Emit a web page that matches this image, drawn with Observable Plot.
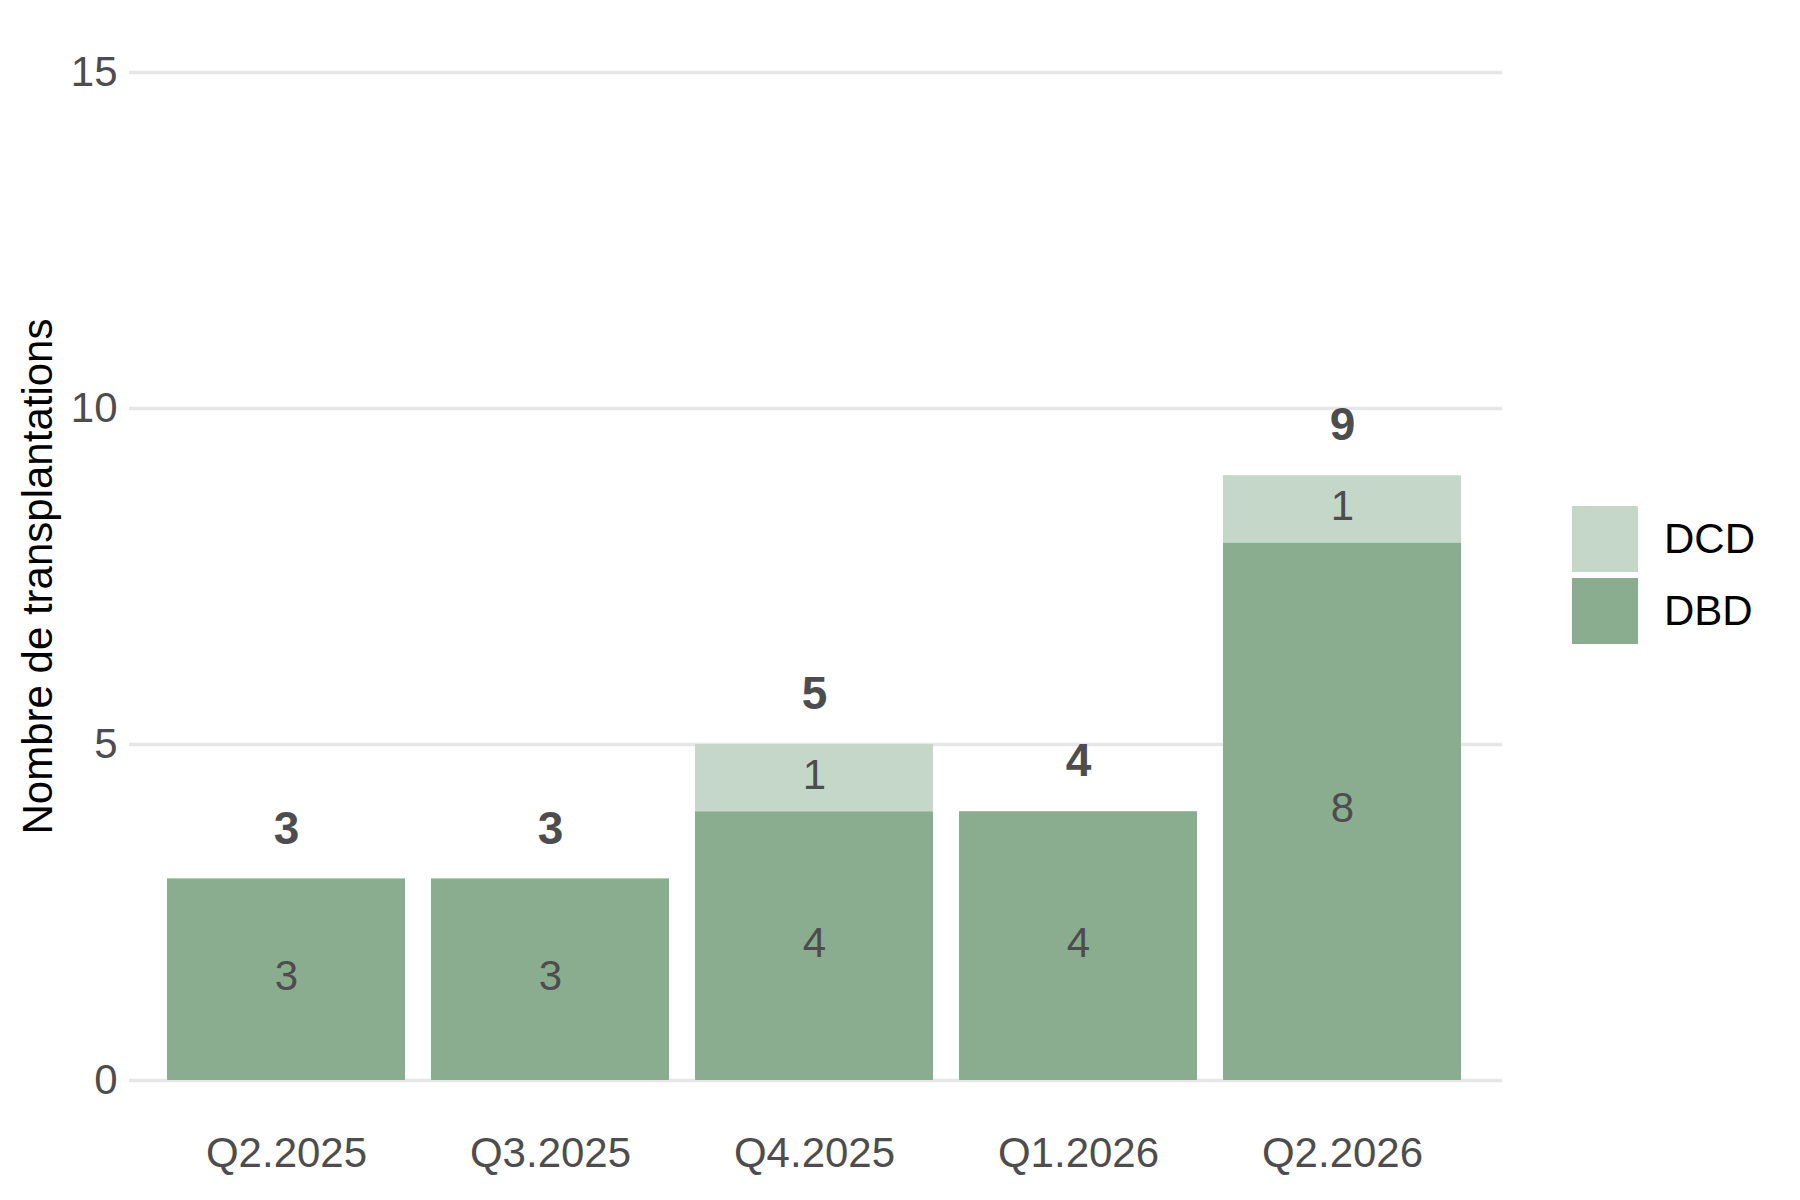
<!DOCTYPE html>
<html>
<head>
<meta charset="utf-8">
<script src="https://cdn.jsdelivr.net/npm/d3@7"></script>
<script src="https://cdn.jsdelivr.net/npm/@observablehq/plot@0.6"></script>
<style>
  html, body { margin: 0; padding: 0; background: #fff; }
  #wrap { position: relative; width: 1800px; height: 1200px; font-family: "Liberation Sans", Arial, sans-serif; }
  .legend { position: absolute; left: 1572px; top: 506px; }
  .item { display: flex; align-items: center; height: 66px; margin-bottom: 6px; }
  .key { width: 66px; height: 66px; }
  .lab { margin-left: 26px; font-size: 42px; color: #000; }
</style>
</head>
<body>
<div id="wrap"></div>
<script>
const quarters = ["Q2.2025", "Q3.2025", "Q4.2025", "Q1.2026", "Q2.2026"];
const dbd = [3, 3, 4, 4, 8];
const dcd = [0, 0, 1, 0, 1];
const types = ["DBD", "DCD"];
const colors = ["#8BAD8F", "#C5D7C9"];
const yTicks = [0, 5, 10, 15];

const rows = [];
quarters.forEach((q, i) => rows.push({quarter: q, type: "DBD", value: dbd[i]}));
quarters.forEach((q, i) => rows.push({quarter: q, type: "DCD", value: dcd[i]}));
const totals = quarters.map((q, i) => ({quarter: q, total: dbd[i] + dcd[i]}));

const font = '"Liberation Sans", Arial, sans-serif';

const chart = Plot.plot({
  width: 1800,
  height: 1200,
  marginLeft: 129,
  marginRight: 298,
  marginTop: 72,
  marginBottom: 120,
  style: {fontFamily: font, background: "#fff"},
  x: {domain: quarters, range: [127, 1500], paddingInner: 0.1, paddingOuter: 0.15, label: null},
  y: {domain: [0, 15], label: null},
  color: {domain: types, range: colors},
  marks: [
    Plot.ruleY(yTicks, {stroke: "#e6e6e6", strokeWidth: 3.5}),
    Plot.barY(rows, Plot.stackY({x: "quarter", y: "value", z: "type", fill: "type", order: types})),
    Plot.text(rows.filter(d => d.value > 0), Plot.stackY({
      x: "quarter", y: "value", z: "type", order: types,
      text: d => String(d.value), fill: "#4d4d4d", fontSize: 42, dy: -3
    })),
    Plot.text(totals, {x: "quarter", y: "total", text: d => String(d.total), dy: -50,
      fill: "#4d4d4d", fontSize: 46, fontWeight: "bold"}),
    Plot.axisX({tickSize: 0, tickPadding: 57, fontSize: 42, color: "#4d4d4d", label: null}),
    Plot.axisY({ticks: yTicks, tickSize: 0, tickPadding: 12, fontSize: 42, color: "#4d4d4d",
      label: "Nombre de transplantations", labelAnchor: "center", labelArrow: "none", labelOffset: 107})
  ]
});
document.getElementById("wrap").appendChild(chart);

chart.querySelectorAll("g[aria-label='y-axis label'] text, g[aria-label='y-axis label']").forEach(el => el.setAttribute("fill", "#000"));

const legend = document.createElement("div");
legend.className = "legend";
[["DCD", colors[1]], ["DBD", colors[0]]].forEach(([name, col]) => {
  const it = document.createElement("div");
  it.className = "item";
  it.innerHTML = `<div class="key" style="background:${col}"></div><div class="lab">${name}</div>`;
  legend.appendChild(it);
});
document.getElementById("wrap").appendChild(legend);
</script>
</body>
</html>
